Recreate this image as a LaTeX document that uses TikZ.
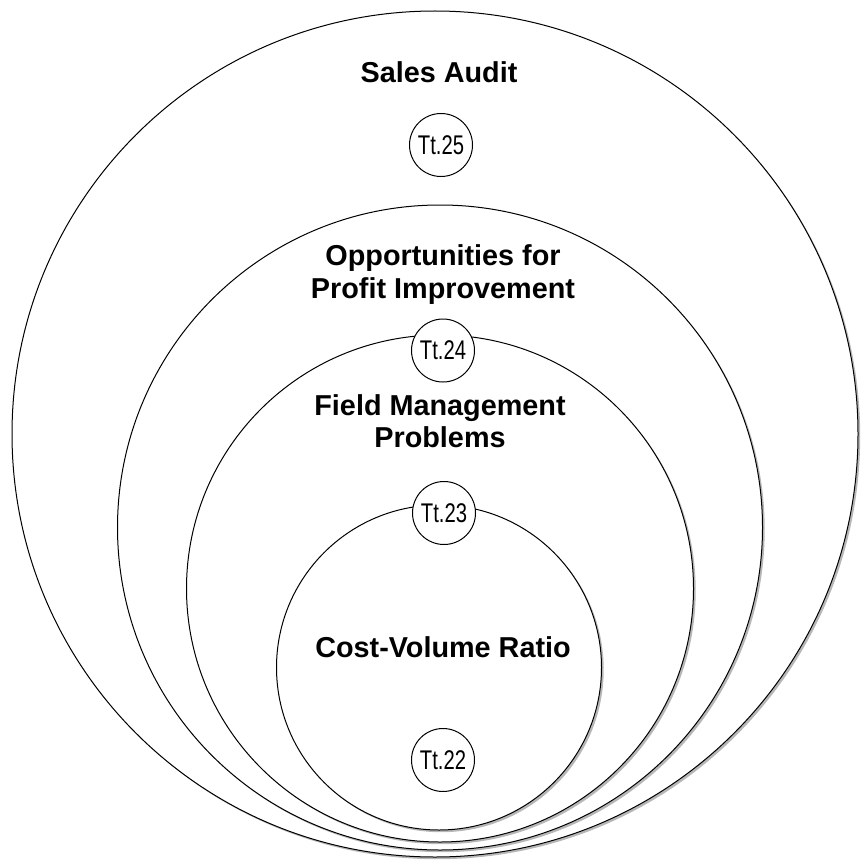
\documentclass[tikz,border=0pt]{standalone}
\usepackage{fontspec}
\setmainfont{Liberation Sans}
\newfontfamily\narrowfont[FakeStretch=0.75]{Liberation Sans}
\usetikzlibrary{shadows}
\begin{document}
\begin{tikzpicture}[x=1pt,y=-1pt,
  ring/.style={circle, draw=black, fill=white, line width=1pt, inner sep=0pt,
    drop shadow={shadow xshift=2.2pt, shadow yshift=-2.2pt, fill=black!40, opacity=0.7}},
  tag/.style={circle, draw=black, fill=white, line width=1pt, inner sep=0pt,
    minimum size=63pt, font=\narrowfont\fontsize{27}{30}\selectfont},
  title/.style={anchor=north, inner sep=0pt, align=center,
    font=\bfseries\fontsize{28.8}{32.5}\selectfont}]
\useasboundingbox (0,0) rectangle (861,864);
\fill[white] (0,0) rectangle (861,864);
% nested circles
\node[ring, minimum size=846pt] (sales) at (435,434) {};
\node[ring, minimum size=645pt] (opp) at (440,527.5) {};
\node[ring, minimum size=507pt] (field) at (440,588.5) {};
\node[ring, minimum size=325pt] (cost) at (439,667.5) {};
% titles
\node[title] (salesT) at (439,61.5) {Sales Audit};
\node[title] (oppT) at (443,244.5) {Opportunities for\\Profit Improvement};
\node[title] (fieldT) at (440,394) {Field Management\\Problems};
\node[title] (costT) at (443,636) {Cost-Volume Ratio};
% tags
\node[tag] (t25) at (441,145) {Tt.25};
\node[tag] (t24) at (443,350.5) {Tt.24};
\node[tag] (t23) at (444,513) {Tt.23};
\node[tag] (t22) at (443,760) {Tt.22};
\end{tikzpicture}
\end{document}
